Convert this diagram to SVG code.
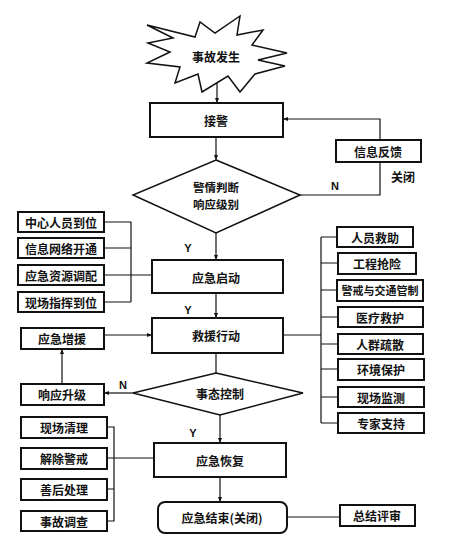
<svg xmlns="http://www.w3.org/2000/svg" width="450" height="541" viewBox="0 0 450 541">
<defs>
<marker id="ah" viewBox="0 0 10 10" refX="10" refY="5" markerWidth="5" markerHeight="5" orient="auto" markerUnits="userSpaceOnUse">
<path d="M0,1 L10,5 L0,9 z" fill="#111"/>
</marker>
<style>
.b{fill:#fff;stroke:#111;stroke-width:2}
.d{fill:#fff;stroke:#111;stroke-width:1.5}
.t{font-family:"Noto Sans CJK SC","Noto Sans CJK JP",sans-serif;font-weight:700;font-size:12px;fill:#111;text-anchor:middle;dominant-baseline:central}
.l{font-family:"Liberation Sans",sans-serif;font-weight:700;font-size:11px;fill:#111;text-anchor:middle;dominant-baseline:central}
.c{fill:none;stroke:#111;stroke-width:1.2}
.a{fill:none;stroke:#111;stroke-width:1.2;marker-end:url(#ah)}
</style>
</defs>
<rect width="450" height="541" fill="#fff"/>
<g id="connectors">
<path class="a" d="M217,75 V103"/>
<path class="a" d="M380,140 V119 H283"/>
<path class="c" d="M300,195 H380 V162"/>
<path class="a" d="M216,137 V160"/>
<path class="a" d="M216,233 V260"/>
<path class="a" d="M216,293 V318"/>
<path class="c" d="M104,222 H131 V302 M104,248 H131 M104,275 H152 M104,302 H131"/>
<path class="a" d="M104,335 H152"/>
<path class="a" d="M62,384 V349"/>
<path class="c" d="M216,353 V373"/>
<path class="a" d="M133,393 H104"/>
<path class="a" d="M220,415 V443"/>
<path class="c" d="M107,427 H114 V521 H107 M107,458 H154 M107,489 H114"/>
<path class="a" d="M220,477 V502"/>
<path class="c" d="M287,517 H340"/>
<path class="c" d="M283,335 H321 M321,237 V423 M321,237 H337 M321,263 H338 M321,290 H337 M321,317 H338 M321,344 H338 M321,369 H338 M321,397 H338 M321,423 H338"/>
</g>
<g id="n_start">
<polygon class="d" points="147,25 195,37 200,22 215,33 240,16 237,35 263,30 252,45 287,53 258,60 285,66 255,74 240,92 228,76 202,92 198,74 175,83 180,67 147,63 170,52 148,43 173,38"/>
<text class="t" x="216" y="56">事故发生</text>
</g>
<g id="n_jiejing"><rect class="b" x="150" y="103" width="133" height="34"/><text class="t" x="216" y="120">接警</text></g>
<g id="n_fankui"><rect class="b" x="336" y="140" width="85" height="22"/><text class="t" x="378" y="151">信息反馈</text></g>
<text class="t" x="403" y="176">关闭</text>
<g id="n_judge"><polygon class="d" points="216,160 300,195 216,233 133,195"/><text class="t" x="216" y="187" style="font-size:11.5px">警情判断</text><text class="t" x="216" y="204" style="font-size:11.5px">响应级别</text></g>
<text class="l" x="335" y="186">N</text>
<text class="l" x="188" y="248">Y</text>
<g id="n_l1"><rect class="b" x="18" y="212" width="86" height="20"/><text class="t" x="61" y="222">中心人员到位</text></g>
<g id="n_l2"><rect class="b" x="18" y="238" width="86" height="20"/><text class="t" x="61" y="248">信息网络开通</text></g>
<g id="n_l3"><rect class="b" x="18" y="265" width="86" height="20"/><text class="t" x="61" y="275">应急资源调配</text></g>
<g id="n_l4"><rect class="b" x="18" y="292" width="86" height="20"/><text class="t" x="61" y="302">现场指挥到位</text></g>
<g id="n_qidong"><rect class="b" x="152" y="260" width="131" height="33"/><text class="t" x="216" y="277">应急启动</text></g>
<text class="l" x="188" y="310">Y</text>
<g id="n_jiuyuan"><rect class="b" x="152" y="318" width="131" height="35"/><text class="t" x="216" y="335">救援行动</text></g>
<g id="n_zengyuan"><rect class="b" x="21" y="328" width="83" height="21"/><text class="t" x="62" y="338">应急增援</text></g>
<g id="n_shengji"><rect class="b" x="21" y="384" width="83" height="21"/><text class="t" x="62" y="394">响应升级</text></g>
<text class="l" x="123" y="385">N</text>
<g id="n_control"><polygon class="d" points="216,373 303,393 220,415 133,393"/><text class="t" x="220" y="393">事态控制</text></g>
<text class="l" x="193" y="433">Y</text>
<g id="n_huifu"><rect class="b" x="154" y="443" width="132" height="34"/><text class="t" x="220" y="460">应急恢复</text></g>
<g id="n_end"><rect class="b" x="158" y="502" width="129" height="31" rx="7"/><text class="t" x="222" y="517">应急结束(关闭)</text></g>
<g id="n_pingshen"><rect class="b" x="340" y="505" width="75" height="21"/><text class="t" x="377" y="515">总结评审</text></g>
<g id="n_b1"><rect class="b" x="21" y="417" width="86" height="21"/><text class="t" x="64" y="427">现场清理</text></g>
<g id="n_b2"><rect class="b" x="21" y="448" width="86" height="21"/><text class="t" x="64" y="458">解除警戒</text></g>
<g id="n_b3"><rect class="b" x="21" y="479" width="86" height="21"/><text class="t" x="64" y="489">善后处理</text></g>
<g id="n_b4"><rect class="b" x="21" y="511" width="86" height="20"/><text class="t" x="64" y="521">事故调查</text></g>
<g id="n_r1"><rect class="b" x="337" y="227" width="76" height="20"/><text class="t" x="375" y="237">人员救助</text></g>
<g id="n_r2"><rect class="b" x="338" y="253" width="78" height="21"/><text class="t" x="377" y="263">工程抢险</text></g>
<g id="n_r3"><rect class="b" x="337" y="280" width="86" height="21"/><text class="t" x="380" y="290" style="font-size:11px">警戒与交通管制</text></g>
<g id="n_r4"><rect class="b" x="338" y="307" width="85" height="20"/><text class="t" x="380" y="317">医疗救护</text></g>
<g id="n_r5"><rect class="b" x="338" y="334" width="85" height="20"/><text class="t" x="380" y="344">人群疏散</text></g>
<g id="n_r6"><rect class="b" x="338" y="359" width="86" height="21"/><text class="t" x="381" y="369">环境保护</text></g>
<g id="n_r7"><rect class="b" x="338" y="387" width="86" height="20"/><text class="t" x="381" y="397">现场监测</text></g>
<g id="n_r8"><rect class="b" x="338" y="413" width="86" height="20"/><text class="t" x="381" y="423">专家支持</text></g>
</svg>
